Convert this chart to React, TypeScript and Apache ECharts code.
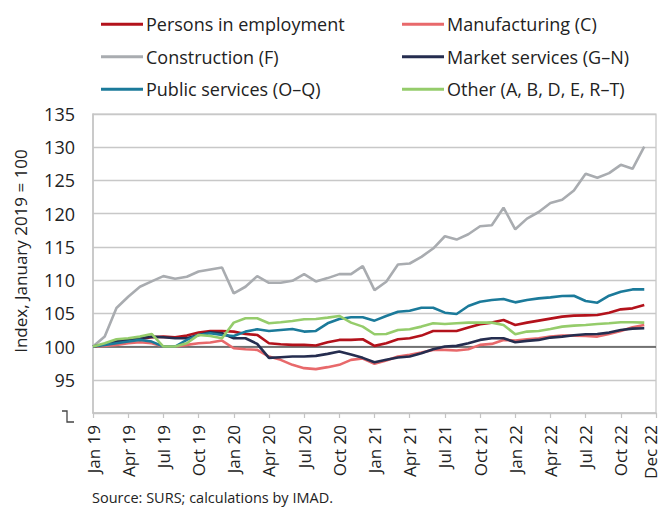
import React, { useEffect, useRef } from "react";
import * as echarts from "echarts";

const tickLabels = ["Jan 19","Apr 19","Jul 19","Oct 19","Jan 20","Apr 20","Jul 20","Oct 20","Jan 21","Apr 21","Jul 21","Oct 21","Jan 22","Apr 22","Jul 22","Oct 22","Dec 22"];

const persons = [100,100.25,100.6,100.9,101.15,101.4,101.5,101.4,101.65,102.1,102.35,102.35,102.25,101.9,101.75,100.5,100.35,100.25,100.25,100.15,100.65,101,101,101.1,100.1,100.5,101.1,101.25,101.65,102.35,102.35,102.35,102.85,103.35,103.6,104,103.25,103.6,103.9,104.2,104.5,104.65,104.7,104.75,105.1,105.6,105.75,106.25];
const manufacturing = [100,100.1,100.25,100.5,100.65,100.5,100,100,100.25,100.5,100.6,100.9,99.75,99.6,99.5,98.5,98,97.25,96.75,96.6,96.9,97.25,98,98.2,97.4,97.9,98.5,98.75,99.1,99.5,99.5,99.4,99.6,100.25,100.4,101,100.9,101.1,101.25,101.5,101.65,101.65,101.6,101.5,101.9,102.35,102.9,103.25];
const construction = [100,101.5,105.8,107.5,109,109.8,110.6,110.2,110.5,111.3,111.6,111.9,108,109,110.6,109.6,109.6,109.9,110.9,109.8,110.3,110.9,110.9,112.1,108.5,109.75,112.35,112.5,113.5,114.75,116.6,116.1,116.9,118.1,118.25,120.9,117.65,119.25,120.25,121.6,122.1,123.5,126,125.4,126.1,127.35,126.75,130.1];
const market = [100,100.35,100.75,101,101.25,101.5,101.4,101.25,101.25,101.75,102.15,102,101.25,101.25,100.4,98.3,98.4,98.5,98.5,98.6,98.9,99.25,98.8,98.3,97.65,98,98.35,98.5,99,99.6,100,100.1,100.5,101,101.25,101.25,100.65,100.85,101,101.35,101.5,101.7,101.85,101.9,102.1,102.5,102.7,102.75];
const publicServices = [100,100.25,100.5,100.75,101,100.75,100,100,101,101.75,102,101.75,101.6,102.25,102.6,102.35,102.5,102.65,102.25,102.35,103.5,104.15,104.4,104.4,103.9,104.6,105.25,105.4,105.85,105.85,105.1,104.9,106.1,106.75,107,107.15,106.65,107,107.25,107.4,107.6,107.65,106.85,106.6,107.65,108.25,108.6,108.6];
const other = [100,100.5,101.1,101.25,101.5,101.9,100,100,100.5,101.75,101.6,101.25,103.6,104.25,104.25,103.5,103.65,103.85,104.1,104.15,104.35,104.6,103.6,103,101.85,101.9,102.5,102.6,103,103.5,103.4,103.5,103.6,103.6,103.6,103.25,101.85,102.25,102.35,102.65,103,103.15,103.25,103.4,103.5,103.65,103.65,103.6];

const seriesNames = ["Persons in employment","Manufacturing (C)","Construction (F)","Market services (G–N)","Public services (O–Q)","Other (A, B, D, E, R–T)"];
const seriesValues = [persons, manufacturing, construction, market, publicServices, other];
const seriesColors = ["#b3121b","#e8696b","#a9acb0","#252d4f","#1b7a9a","#95cc6b"];

const FONT = "'Open Sans', 'Liberation Sans', sans-serif";

export default function App() {
  const ref = useRef<HTMLDivElement>(null);
  useEffect(() => {
    if (!ref.current) return;
    const chart = echarts.init(ref.current, undefined, { renderer: "svg" });
    const series: any[] = seriesNames.map((name, k) => ({
      name,
      type: "line",
      data: seriesValues[k].map((v, i) => [i, v]),
      showSymbol: false,
      symbol: "none",
      lineStyle: { color: seriesColors[k], width: 2.6 },
      itemStyle: { color: seriesColors[k] },
      z: 3,
    }));
    series[0].markLine = {
      silent: true,
      symbol: "none",
      label: { show: false },
      lineStyle: { color: "#555555", width: 1.6, type: "solid" },
      data: [{ yAxis: 100 }],
      z: 2,
    };
    const legendCommon = {
      orient: "vertical",
      icon: "rect",
      itemWidth: 42,
      itemHeight: 3,
      itemGap: 12,
      textStyle: { fontFamily: FONT, fontSize: 18, color: "#222", lineHeight: 20.5, padding: [0, 0, 0, -2] },
    };
    chart.setOption({
      animation: false,
      backgroundColor: "#fff",
      textStyle: { fontFamily: FONT },
      legend: [
        { ...legendCommon, left: 96, top: 9, data: [seriesNames[0], seriesNames[2], seriesNames[4]] },
        { ...legendCommon, left: 397, top: 9, data: [seriesNames[1], seriesNames[3], seriesNames[5]] },
      ],
      grid: {
        left: 93, top: 114, right: 4, bottom: 95,
        show: true, borderColor: "#c4c4c4", borderWidth: 1.2,
      },
      xAxis: {
        type: "value",
        min: 0, max: 48, interval: 3,
        axisLine: { show: true, lineStyle: { color: "#c4c4c4", width: 1.5 } },
        axisTick: { show: true, length: 5, lineStyle: { color: "#c4c4c4", width: 1.2 } },
        splitLine: { show: false },
        axisLabel: {
          rotate: 90, margin: 12, fontSize: 17, color: "#222", fontFamily: FONT,
          showMinLabel: true, showMaxLabel: true,
          formatter: (v: number) => {
            const idx = Math.round(v / 3);
            const t = tickLabels[idx] ?? "";
            return idx === tickLabels.length - 1 ? "{last|" + t + "}" : t;
          },
          rich: {
            last: { fontSize: 17, color: "#222", fontFamily: FONT, padding: [0, 0, 12, 0] },
          },
        },
      },
      yAxis: {
        type: "value",
        min: 90, max: 135, interval: 5,
        axisLine: { show: true, lineStyle: { color: "#c4c4c4", width: 1.5 } },
        axisTick: { show: false },
        splitLine: { show: true, lineStyle: { color: "#c8c8c8", width: 1.3 } },
        axisLabel: {
          margin: 18, fontSize: 18, color: "#222", fontFamily: FONT,
          formatter: (v: number) => (v === 90 ? "" : String(v)),
        },
      },
      graphic: [
        {
          type: "text", x: 20, y: 251, rotation: Math.PI / 2,
          style: { text: "Index, January 2019 = 100", fontFamily: FONT, fontSize: 17, fill: "#222", textAlign: "center", textVerticalAlign: "middle" },
        },
        {
          type: "text", x: 92, y: 497,
          style: { text: "Source: SURS; calculations by IMAD.", fontFamily: FONT, fontSize: 14.5, fill: "#222", textAlign: "left", textVerticalAlign: "middle" },
        },
        {
          type: "polyline",
          shape: { points: [[62, 411], [67, 411], [67, 422], [74, 422]] },
          style: { stroke: "#444", lineWidth: 1.3, fill: "none" },
        },
      ],
      series,
    });
    return () => chart.dispose();
  }, []);
  return <div ref={ref} style={{ position: "fixed", left: 0, top: 0, width: 660, height: 508 }} />;
}
